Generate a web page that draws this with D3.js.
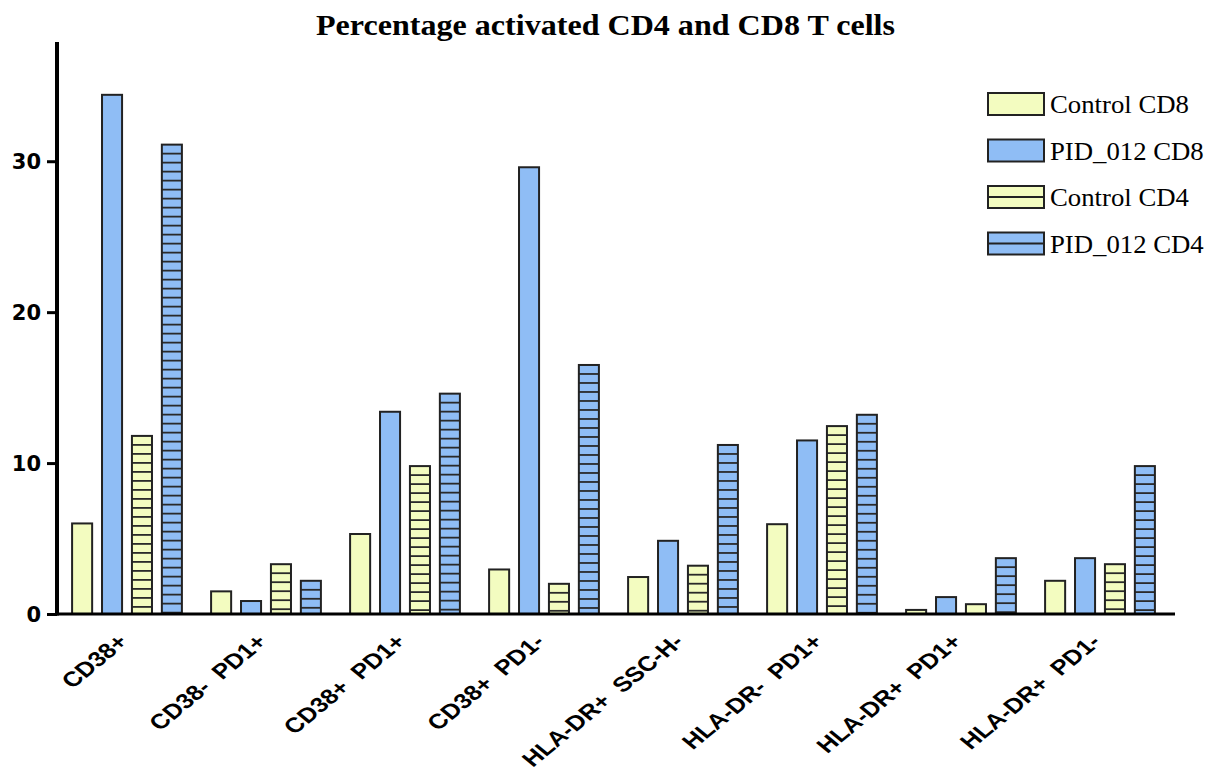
<!DOCTYPE html>
<html>
<head>
<meta charset="utf-8">
<script src="https://cdn.jsdelivr.net/npm/d3@7"></script>
<style>
  body { margin: 0; background: #fff; }
</style>
</head>
<body>
<div id="chart"></div>
<script>
const categories = ["CD38+", "CD38- PD1+", "CD38+ PD1+", "CD38+ PD1-", "HLA-DR+ SSC-H-", "HLA-DR- PD1+", "HLA-DR+ PD1+", "HLA-DR+ PD1-"];
const seriesNames = ["Control CD8", "PID_012 CD8", "Control CD4", "PID_012 CD4"];
const controlCD8 = [6.0, 1.5, 5.3, 2.95, 2.45, 5.95, 0.27, 2.2];
const pidCD8 = [34.4, 0.86, 13.4, 29.6, 4.85, 11.5, 1.12, 3.7];
const controlCD4 = [11.8, 3.3, 9.8, 2.0, 3.2, 12.45, 0.65, 3.3];
const pidCD4 = [31.1, 2.2, 14.6, 16.5, 11.2, 13.2, 3.7, 9.8];
const yTicks = [0, 10, 20, 30];

const seriesValues = [controlCD8, pidCD8, controlCD4, pidCD4];
const fills = ["#f3fcc0", "#8fbdf5", "#f3fcc0", "#8fbdf5"];
const striped = [false, false, true, true];

const W = 1212, H = 781;
const svg = d3.select("#chart").append("svg").attr("width", W).attr("height", H);

const x = d3.scaleBand().domain(categories).range([57.5, 1169.5]).paddingInner(0.21).paddingOuter(0.105);
const xs = d3.scaleBand().domain(seriesNames).range([0, x.bandwidth()]).paddingInner(0.33);
const y = d3.scaleLinear().domain([0, 37.9]).range([614, 42]);

svg.append("text")
  .attr("x", 605.5).attr("y", 35)
  .attr("text-anchor", "middle")
  .attr("font-family", "Liberation Serif, Times New Roman, serif")
  .attr("font-weight", "bold")
  .attr("font-size", 29)
  .attr("textLength", 579)
  .attr("lengthAdjust", "spacingAndGlyphs")
  .text("Percentage activated CD4 and CD8 T cells");

const rows = [];
categories.forEach((c, i) => {
  seriesNames.forEach((s, j) => {
    rows.push({ cat: c, series: s, j: j, value: seriesValues[j][i] });
  });
});

const g = svg.append("g");
const bars = g.selectAll("g.bar").data(rows).enter().append("g").attr("class", "bar");

bars.append("rect")
  .attr("x", d => x(d.cat) + xs(d.series))
  .attr("y", d => y(d.value))
  .attr("width", xs.bandwidth())
  .attr("height", d => y(0) - y(d.value))
  .attr("fill", d => fills[d.j]);

// horizontal stripes for CD4 bars
bars.filter(d => striped[d.j]).each(function(d) {
  const top = y(d.value), lines = [];
  for (let yy = top + 9; yy < y(0) - 1; yy += 9) lines.push(yy);
  d3.select(this).selectAll("line").data(lines).enter().append("line")
    .attr("x1", x(d.cat) + xs(d.series))
    .attr("x2", x(d.cat) + xs(d.series) + xs.bandwidth())
    .attr("y1", v => v).attr("y2", v => v)
    .attr("stroke", "#2a2a2a").attr("stroke-width", 1.8);
});

bars.append("rect")
  .attr("x", d => x(d.cat) + xs(d.series))
  .attr("y", d => y(d.value))
  .attr("width", xs.bandwidth())
  .attr("height", d => y(0) - y(d.value))
  .attr("fill", "none")
  .attr("stroke", "#222")
  .attr("stroke-width", 2);

// y axis
const yAxis = svg.append("g").attr("transform", "translate(57,0)")
  .call(d3.axisLeft(y).tickValues(yTicks).tickSize(10).tickPadding(4));
yAxis.select(".domain").remove();
yAxis.selectAll(".tick line").attr("stroke", "#000").attr("stroke-width", 3);
yAxis.selectAll("text")
  .attr("font-family", "DejaVu Sans, sans-serif")
  .attr("font-weight", "bold")
  .attr("font-size", 21)
  .attr("fill", "#000")
  .attr("x", -16).attr("dy", "0.36em");
svg.append("line").attr("x1", 57).attr("x2", 57).attr("y1", 42).attr("y2", 615.5)
  .attr("stroke", "#000").attr("stroke-width", 4);

// x axis
svg.append("line").attr("x1", 55).attr("x2", 1175).attr("y1", 614).attr("y2", 614)
  .attr("stroke", "#000").attr("stroke-width", 3);
const xAxis = svg.append("g").attr("transform", "translate(0,614)")
  .call(d3.axisBottom(x).tickSize(0));
xAxis.select(".domain").remove();
xAxis.selectAll("text")
  .attr("font-family", "Liberation Sans, Arial, sans-serif")
  .attr("font-weight", "bold")
  .attr("font-size", 21)
  .attr("fill", "#000")
  .attr("text-anchor", "end")
  .attr("y", 0).attr("dy", 0)
  .attr("transform", "translate(2,29) scale(1.22,1) rotate(-45)")
  .text(d => d.replace(" ", "\u00a0\u00a0"));

// legend
const legend = svg.append("g").selectAll("g").data(seriesNames).enter().append("g")
  .attr("transform", (d, i) => `translate(988,${93 + i * 46.5})`);
legend.append("rect").attr("width", 56).attr("height", 22)
  .attr("fill", (d, i) => fills[i]).attr("stroke", "#222").attr("stroke-width", 2);
legend.filter((d, i) => striped[i]).append("line")
  .attr("x1", 0).attr("x2", 56).attr("y1", 11).attr("y2", 11)
  .attr("stroke", "#222").attr("stroke-width", 2);
legend.append("text")
  .attr("transform", "translate(62,20) scale(1.07,1)")
  .attr("font-family", "Liberation Serif, Times New Roman, serif")
  .attr("font-size", 25)
  .text(d => d);
</script>
</body>
</html>
